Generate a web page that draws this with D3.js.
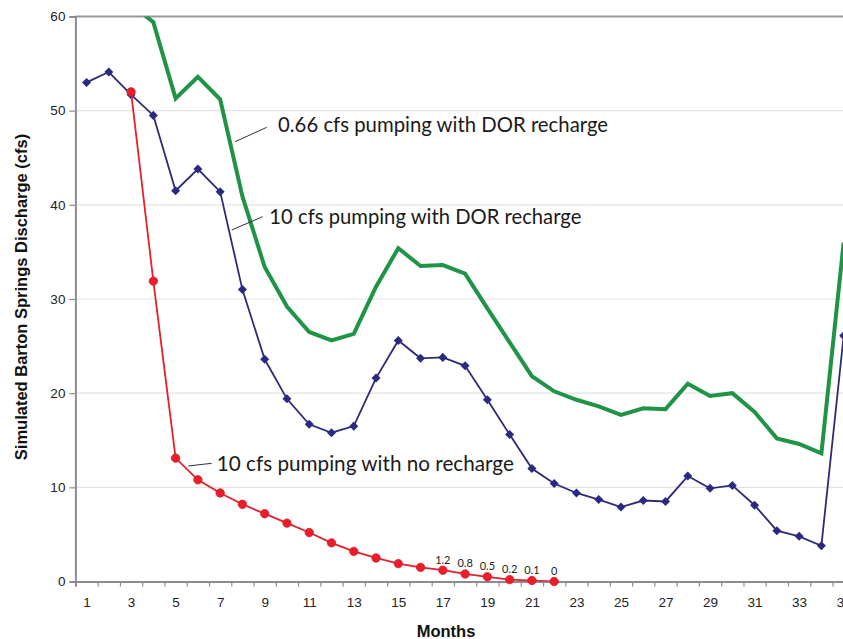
<!DOCTYPE html>
<html>
<head>
<meta charset="utf-8">
<script src="https://cdn.jsdelivr.net/npm/d3@7"></script>
<style>
html,body{margin:0;padding:0;background:#fff;overflow:hidden;}
svg{display:block;}
</style>
</head>
<body>
<script>
// ---- data ----
const months = d3.range(1, 36);
const yTicks = [0, 10, 20, 30, 40, 50, 60];
const xTickLabels = months.filter(m => m % 2 === 1);

// 10 cfs pumping with DOR recharge (months 1..35)
const blueValues = [53.0, 54.1, 51.7, 49.5, 41.5, 43.8, 41.4, 31.0, 23.6, 19.4,
  16.7, 15.8, 16.5, 21.6, 25.6, 23.7, 23.8, 22.9, 19.3, 15.6,
  12.0, 10.4, 9.4, 8.7, 7.9, 8.6, 8.5, 11.2, 9.9, 10.2,
  8.1, 5.4, 4.8, 3.8, 26.1];

// 0.66 cfs pumping with DOR recharge (months 1..35)
const greenValues = [null, null, 61.3, 59.4, 51.3, 53.6, 51.2, 40.9, 33.4, 29.2,
  26.5, 25.6, 26.3, 31.3, 35.4, 33.5, 33.6, 32.7, 29.0, 25.4,
  21.8, 20.2, 19.3, 18.6, 17.7, 18.4, 18.3, 21.0, 19.7, 20.0,
  18.0, 15.2, 14.6, 13.6, 36.0];

// 10 cfs pumping with no recharge (months 3..22)
const redMonths = d3.range(3, 23);
const redValues = [52.0, 31.9, 13.1, 10.8, 9.4, 8.2, 7.2, 6.2, 5.2, 4.1,
  3.2, 2.5, 1.9, 1.5, 1.2, 0.8, 0.5, 0.2, 0.1, 0];
const redLabelMonths = [17, 18, 19, 20, 21, 22];
const redLabels = ["1.2", "0.8", "0.5", "0.2", "0.1", "0"];

const annotations = [
  {text: "0.66 cfs pumping with DOR recharge", month: 9.60, value: 47.77, len: 330},
  {text: "10 cfs pumping with DOR recharge", month: 9.21, value: 37.96, len: 312},
  {text: "10 cfs pumping with no recharge", month: 6.85, value: 11.77, len: 297}
];
const leaders = [
  {m1: 7.67, v1: 46.70, m2: 9.09, v2: 48.23},
  {m1: 7.52, v1: 37.33, m2: 8.91, v2: 38.74},
  {m1: 5.57, v1: 12.27, m2: 6.62, v2: 12.55}
];

const xTitle = "Months";
const yTitle = "Simulated Barton Springs Discharge (cfs)";

// ---- layout ----
const W = 843, H = 639;
const svg = d3.select("body").append("svg").attr("width", W).attr("height", H);

const x = d3.scaleLinear().domain([0.5, 35.5]).range([75.4, 854.8]);
const y = d3.scaleLinear().domain([0, 60]).range([581.5, 16.5]);

const defs = svg.append("defs");
defs.append("clipPath").attr("id", "plotclip").append("rect")
  .attr("x", x(0.5)).attr("y", y(60)).attr("width", x(35.5) - x(0.5)).attr("height", y(0) - y(60));

// gridlines
svg.append("g").selectAll("line").data(yTicks.filter(t => t > 0 && t < 60)).join("line")
  .attr("x1", x(0.5)).attr("x2", x(35.5))
  .attr("y1", d => y(d)).attr("y2", d => y(d))
  .attr("stroke", "#e2e2e2").attr("stroke-width", 1.2);

// top border
svg.append("line").attr("x1", x(0.5)).attr("x2", x(35.5)).attr("y1", y(60)).attr("y2", y(60))
  .attr("stroke", "#999").attr("stroke-width", 1.8);

// y axis
const yAxis = svg.append("g").attr("transform", `translate(${x(0.5)},0)`)
  .call(d3.axisLeft(y).tickValues(yTicks).tickSize(6).tickPadding(4));
yAxis.select(".domain").attr("stroke", "#8c8c8c").attr("stroke-width", 2);
yAxis.selectAll(".tick line").attr("stroke", "#8c8c8c").attr("stroke-width", 1.2);
yAxis.selectAll(".tick text").attr("font-family", "Liberation Sans, Arial, sans-serif")
  .attr("font-size", 13.5).attr("fill", "#222");

// x axis: tick marks at boundaries
const xAxisMarks = svg.append("g").attr("transform", `translate(0,${y(0)})`)
  .call(d3.axisBottom(x).tickValues(d3.range(0.5, 36, 1)).tickSize(5).tickFormat(""));
xAxisMarks.select(".domain").attr("stroke", "#8c8c8c").attr("stroke-width", 2);
xAxisMarks.selectAll(".tick line").attr("stroke", "#8c8c8c").attr("stroke-width", 1.2);

const xAxisLabels = svg.append("g").attr("transform", `translate(0,${y(0)})`)
  .call(d3.axisBottom(x).tickValues(xTickLabels).tickSize(0).tickPadding(16).tickFormat(d3.format("d")));
xAxisLabels.select(".domain").remove();
xAxisLabels.selectAll(".tick text").attr("font-family", "Liberation Sans, Arial, sans-serif")
  .attr("font-size", 13.5).attr("fill", "#222");

// axis titles
svg.append("text").attr("x", 446).attr("y", 637).attr("text-anchor", "middle")
  .attr("font-family", "Liberation Sans, Arial, sans-serif").attr("font-weight", "bold")
  .attr("font-size", 16.5).attr("fill", "#111").text(xTitle);
svg.append("text").attr("transform", "translate(27,297) rotate(-90)").attr("text-anchor", "middle")
  .attr("font-family", "Liberation Sans, Arial, sans-serif").attr("font-weight", "bold")
  .attr("font-size", 16.5).attr("fill", "#111").text(yTitle);

const plot = svg.append("g").attr("clip-path", "url(#plotclip)");

const line = d3.line().defined(d => d.v != null).x(d => x(d.m)).y(d => y(d.v));

// blue line
const blueData = months.map((m, i) => ({m, v: blueValues[i]}));
plot.append("path").datum(blueData).attr("d", line)
  .attr("fill", "none").attr("stroke", "#2e2a74").attr("stroke-width", 1.8);
plot.append("g").selectAll("path").data(blueData).join("path")
  .attr("d", d3.symbol().type(d3.symbolDiamond2).size(52))
  .attr("transform", d => `translate(${x(d.m)},${y(d.v)})`)
  .attr("fill", "#2b2a80");

// green line
const greenData = months.map((m, i) => ({m, v: greenValues[i]}));
plot.append("path").datum(greenData).attr("d", line)
  .attr("fill", "none").attr("stroke", "#1f9447").attr("stroke-width", 4).attr("stroke-linejoin", "miter");

// red line
const redData = redMonths.map((m, i) => ({m, v: redValues[i]}));
plot.append("path").datum(redData).attr("d", line)
  .attr("fill", "none").attr("stroke", "#e3202b").attr("stroke-width", 1.8);
svg.append("g").selectAll("circle").data(redData).join("circle")
  .attr("cx", d => x(d.m)).attr("cy", d => y(d.v)).attr("r", 4.2)
  .attr("fill", "#ec1c2a").attr("stroke", "#d0202a").attr("stroke-width", 0.8);

// red data labels
svg.append("g").selectAll("text").data(redLabelMonths).join("text")
  .attr("x", m => x(m)).attr("y", m => y(redValues[redMonths.indexOf(m)]) - 6.5)
  .attr("text-anchor", "middle").attr("font-family", "Lato, Open Sans, sans-serif")
  .attr("font-size", 11).attr("fill", "#222")
  .text((m, i) => redLabels[i]);

// leader lines
svg.append("g").selectAll("line").data(leaders).join("line")
  .attr("x1", d => x(d.m1)).attr("y1", d => y(d.v1)).attr("x2", d => x(d.m2)).attr("y2", d => y(d.v2))
  .attr("stroke", "#333").attr("stroke-width", 1);

// annotations
svg.append("g").selectAll("text").data(annotations).join("text")
  .attr("x", d => x(d.month)).attr("y", d => y(d.value))
  .attr("font-family", "Lato, Open Sans, sans-serif").attr("font-size", 21).attr("fill", "#1a1a1a")
  .attr("textLength", d => d.len).attr("lengthAdjust", "spacingAndGlyphs")
  .text(d => d.text);
</script>
</body>
</html>
